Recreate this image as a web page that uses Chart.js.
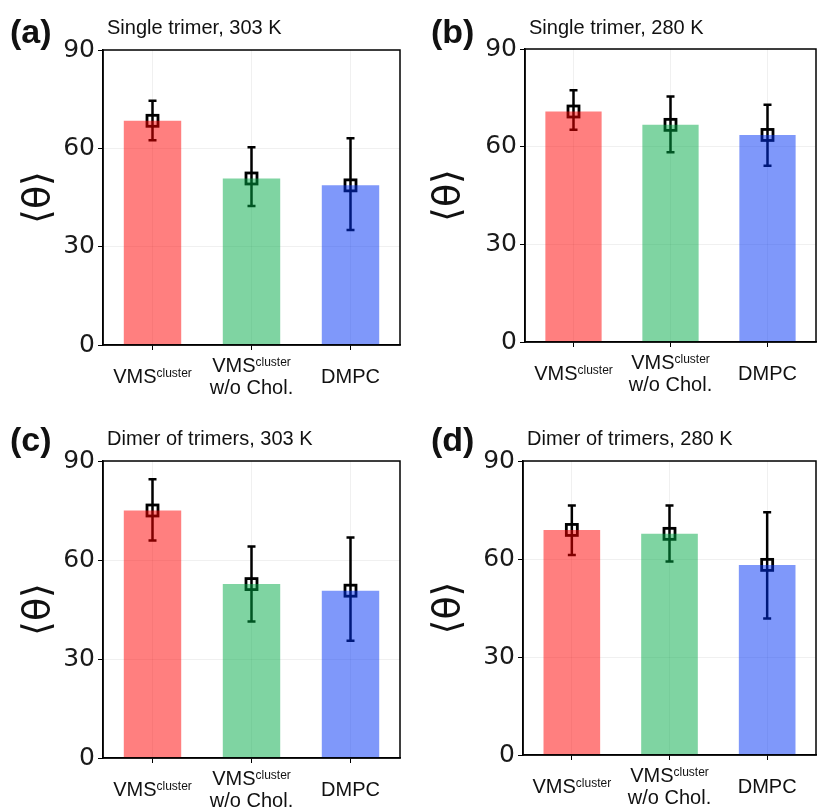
<!DOCTYPE html>
<html>
<head>
<meta charset="utf-8">
<script src="https://cdn.jsdelivr.net/npm/chart.js@4.4.1/dist/chart.umd.min.js"></script>
<style>
body{margin:0;background:#fff;}
#wrap{position:relative;width:817px;height:809px;overflow:hidden;}
canvas{position:absolute;}
</style>
</head>
<body>
<div id="wrap">
<canvas id="pa" width="408" height="400" style="left:0px;top:0px"></canvas>
<canvas id="pb" width="407" height="400" style="left:410px;top:0px"></canvas>
<canvas id="pc" width="408" height="404" style="left:0px;top:405px"></canvas>
<canvas id="pd" width="407" height="404" style="left:410px;top:405px"></canvas>
</div>
<script>

// categories (drawn with a superscript by the label plugin)
const categories = ["VMS cluster", "VMS cluster w/o Chol.", "DMPC"];
const yTicks = [0, 30, 60, 90];

// (a) single trimer, 303 K
const meanA = [68.4, 50.8, 48.7];
const loA = [62.5, 42.4, 35.1];
const hiA = [74.5, 60.3, 63.1];

// (b) single trimer, 280 K
const meanB = [70.8, 66.7, 63.6];
const loB = [65.2, 58.3, 54.1];
const hiB = [77.3, 75.4, 72.9];

// (c) dimer of trimers, 303 K
const meanC = [75.0, 52.7, 50.7];
const loC = [65.9, 41.4, 35.5];
const hiC = [84.5, 64.1, 66.8];

// (d) dimer of trimers, 280 K
const meanD = [68.9, 67.7, 58.2];
const loD = [61.2, 59.2, 41.8];
const hiD = [76.4, 76.4, 74.3];

const barColors = ["rgba(255,0,0,0.5)", "rgba(0,170,70,0.5)", "rgba(0,50,245,0.5)"];

// error bars + open squares, drawn under the translucent bars
const errPlugin = {
id:"errbars",
beforeDatasetsDraw(chart){
const p = chart.options.plugins.errbars;
const ctx = chart.ctx;
const x = chart.scales.x, y = chart.scales.y;
ctx.save();
ctx.strokeStyle = "#000";
ctx.lineWidth = 2.5;
for(let i=0;i<p.mean.length;i++){
const px = x.getPixelForValue(i);
const top = y.getPixelForValue(p.hi[i]);
const bot = y.getPixelForValue(p.lo[i]);
const m = y.getPixelForValue(p.mean[i]);
ctx.beginPath();
ctx.moveTo(px, top); ctx.lineTo(px, bot);
ctx.moveTo(px-4, top); ctx.lineTo(px+4, top);
ctx.moveTo(px-4, bot); ctx.lineTo(px+4, bot);
ctx.stroke();
ctx.lineWidth = 2.8;
ctx.strokeRect(px-5.5, m-5.5, 11, 11);
ctx.lineWidth = 2.5;
}
ctx.restore();
},
afterDraw(chart){
const p = chart.options.plugins.errbars;
const ctx = chart.ctx;
const a = chart.chartArea;
const x = chart.scales.x;
ctx.save();
// frame
ctx.strokeStyle = "#000";
ctx.lineWidth = 1.5;
ctx.strokeRect(a.left, a.top, a.right-a.left, a.bottom-a.top);
// panel letter and title
ctx.fillStyle = "#111";
ctx.textBaseline = "alphabetic";
ctx.textAlign = "left";
ctx.font = "bold 34px 'Liberation Sans', Arial, sans-serif";
ctx.fillText(p.letter, p.letterX, p.letterY);
ctx.font = "20px 'Liberation Sans', Arial, sans-serif";
ctx.fillText(p.title, a.left+4, p.titleY);
// category labels with superscript
const big = "20px 'Liberation Sans', Arial, sans-serif";
const small = "12px 'Liberation Sans', Arial, sans-serif";
function vms(cx, by){
ctx.font = big;
const w1 = ctx.measureText("VMS").width;
ctx.font = small;
const w2 = ctx.measureText("cluster").width;
const sx = cx - (w1+w2)/2;
ctx.textAlign = "left";
ctx.font = big;
ctx.fillText("VMS", sx, by);
ctx.font = small;
ctx.fillText("cluster", sx+w1, by-6);
}
vms(x.getPixelForValue(0), a.bottom+38);
vms(x.getPixelForValue(1), a.bottom+27);
ctx.font = big;
ctx.textAlign = "center";
ctx.fillText("w/o Chol.", x.getPixelForValue(1), a.bottom+49);
ctx.fillText("DMPC", x.getPixelForValue(2), a.bottom+38);
ctx.restore();
}
};

function makePanel(id, mean, lo, hi, letter, title, lay){

new Chart(document.getElementById(id),{

type:"bar",

data:{
labels:categories,
datasets:[{
data:mean,
backgroundColor:barColors,
borderWidth:0,
barPercentage:0.58,
categoryPercentage:1
}]
},

options:{
responsive:false,
animation:false,
layout:{padding:{top:lay.top, right:lay.right, left:0, bottom:0}},
plugins:{
legend:{display:false},
tooltip:{enabled:false},
errbars:{mean:mean, lo:lo, hi:hi, letter:letter, title:title,
letterX:lay.letterX, letterY:lay.letterY, titleY:lay.titleY}
},
scales:{
x:{
ticks:{display:false},
grid:{offset:false, color:"rgba(0,0,0,0.06)", tickColor:"#000", tickLength:5, lineWidth:1},
border:{color:"#000", width:1.5},
afterFit(s){ s.height = lay.xh; }
},
y:{
min:0,
max:90,
afterBuildTicks(s){ s.ticks = yTicks.map(v => ({value:v})); },
ticks:{color:"#1a1a1a", padding:3, font:{family:"'DejaVu Sans'", size:25}},
grid:{color:"rgba(0,0,0,0.06)", tickColor:"#000", tickLength:5, lineWidth:1},
border:{color:"#000", width:1.5},
title:{display:true, text:"⟨θ⟩", color:"#111", padding:{top:16}, font:{family:"'DejaVu Sans'", size:38}},
afterFit(s){ s.width = lay.yw; }
}
}
},

plugins:[errPlugin]

});

}

makePanel("pa", meanA, loA, hiA, "(a)", "Single trimer, 303 K",
{top:50, right:8, xh:55, yw:103, letterX:10, letterY:43, titleY:34});
makePanel("pb", meanB, loB, hiB, "(b)", "Single trimer, 280 K",
{top:49, right:1, xh:58, yw:115, letterX:21, letterY:43, titleY:34});
makePanel("pc", meanC, loC, hiC, "(c)", "Dimer of trimers, 303 K",
{top:56, right:8, xh:51, yw:103, letterX:10, letterY:46, titleY:40});
makePanel("pd", meanD, loD, hiD, "(d)", "Dimer of trimers, 280 K",
{top:56, right:1, xh:54, yw:113, letterX:21, letterY:46, titleY:40});

</script>
</body>
</html>
